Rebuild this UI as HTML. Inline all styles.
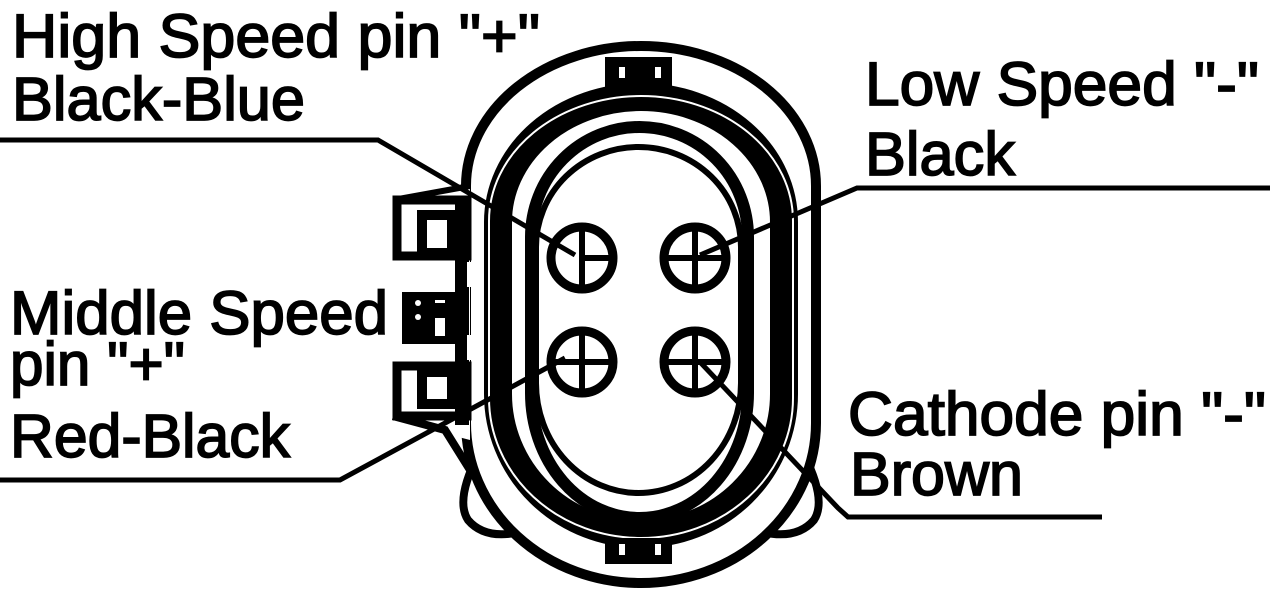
<!DOCTYPE html>
<html><head><meta charset="utf-8"><style>
html,body{margin:0;padding:0;background:#fff;}
svg{display:block;}
text{font-family:"Liberation Sans",Arial,sans-serif;font-size:61px;fill:#000;stroke:#000;stroke-width:1.7px;}
</style></head><body>
<svg width="1280" height="598" viewBox="0 0 1280 598" xmlns="http://www.w3.org/2000/svg">
<rect width="1280" height="598" fill="#fff" stroke="none"/>
<!-- ears -->
<path d="M478,455 Q455,500 468,520 Q485,540 520,532 L545,505 Z" fill="#fff" stroke="#000" stroke-width="8"/>
<path d="M804,455 Q827,500 814,520 Q797,540 762,532 L737,505 Z" fill="#fff" stroke="#000" stroke-width="8"/>
<!-- outer shell -->
<path d="M466,186 A175,140 0 0 1 816,186 V423 A175,160 0 0 1 466,423 Z" fill="#fff" stroke="#000" stroke-width="10"/>
<!-- left latch block -->
<path d="M393,200 L470,186 L470,440 L393,420 Z" fill="#fff" stroke="none"/>
<path d="M393,200 L470,186" stroke="#000" stroke-width="6"/>
<path d="M393,416 L445,430 L470,470" fill="none" stroke="#000" stroke-width="8"/>
<rect x="397" y="200" width="70" height="56" fill="#fff" stroke="#000" stroke-width="9"/>
<rect x="422" y="215" width="30" height="38" fill="#fff" stroke="#000" stroke-width="10"/>
<rect x="402" y="292" width="65" height="52" fill="#000"/>
<rect x="435" y="318" width="10" height="18" fill="#fff"/>
<circle cx="418" cy="303" r="3" fill="#fff"/><circle cx="418" cy="317" r="3" fill="#fff"/>
<circle cx="463" cy="303" r="3" fill="#fff"/><circle cx="463" cy="317" r="3" fill="#fff"/>
<rect x="435" y="300" width="10" height="3" fill="#fff"/>
<rect x="397" y="366" width="70" height="50" fill="#fff" stroke="#000" stroke-width="9"/>
<rect x="422" y="372" width="30" height="32" fill="#fff" stroke="#000" stroke-width="10"/>
<rect x="455" y="200" width="14" height="225" fill="#000"/>
<rect x="467" y="262" width="6" height="25" fill="#fff"/>
<rect x="467" y="335" width="6" height="25" fill="#fff"/>
<!-- rings -->
<path d="M498,222 A143,125 0 0 1 784,222 V394 A143,140 0 0 1 498,394 Z" fill="#fff" stroke="#000" stroke-width="28"/>
<path d="M489,221 A152,125 0 0 1 793,221 V398 A152,140 0 0 1 489,398 Z" fill="none" stroke="#fff" stroke-width="2"/>
<path d="M531,237 A108.5,110 0 0 1 748,237 V393 A108.5,125 0 0 1 531,393 Z" fill="#fff" stroke="#000" stroke-width="12"/>
<path d="M536,247 A102.5,100 0 0 1 741,247 V383 A102.5,110 0 0 1 536,383 Z" fill="#fff" stroke="#000" stroke-width="6"/>
<!-- top / bottom tabs -->
<rect x="605" y="57" width="67" height="30" fill="#000"/>
<rect x="619" y="67" width="6" height="11" fill="#fff"/><rect x="655" y="67" width="6" height="11" fill="#fff"/>
<rect x="605" y="538" width="67" height="26" fill="#000"/>
<rect x="619" y="544" width="6" height="11" fill="#fff"/><rect x="655" y="544" width="6" height="11" fill="#fff"/>
<!-- pins -->
<g fill="#fff" stroke="#000" stroke-width="9">
<circle cx="582" cy="258" r="31"/><circle cx="695" cy="258" r="31"/>
<circle cx="582" cy="362" r="31"/><circle cx="695" cy="362" r="31"/>
</g>
<g stroke="#000" stroke-width="6">
<path d="M582,227 V289 M582,258 H611"/>
<path d="M695,227 V289 M666,258 H724"/>
<path d="M582,331 V393 M553,362 H611"/>
<path d="M695,331 V393 M666,362 H724"/>
</g>
<!-- leader lines -->
<g fill="none" stroke="#000" stroke-width="5" stroke-linejoin="miter">
<polyline points="0,140 378,140 575,255"/>
<polyline points="1270,188 857,188 700,255"/>
<polyline points="0,480 340,480 565,358"/>
<polyline points="700,362 838,508 848,517 1102,517"/>
</g>
<!-- labels -->
<text x="12" y="57" textLength="528" lengthAdjust="spacingAndGlyphs">High Speed pin "+"</text>
<text x="12" y="120" textLength="293" lengthAdjust="spacingAndGlyphs">Black-Blue</text>
<text x="865" y="105" textLength="394" lengthAdjust="spacingAndGlyphs">Low Speed "-"</text>
<text x="865" y="175" textLength="150" lengthAdjust="spacingAndGlyphs">Black</text>
<text x="10" y="334" textLength="378" lengthAdjust="spacingAndGlyphs">Middle Speed</text>
<text x="10" y="385" textLength="175" lengthAdjust="spacingAndGlyphs">pin "+"</text>
<text x="10" y="457" textLength="280" lengthAdjust="spacingAndGlyphs">Red-Black</text>
<text x="848" y="435" textLength="418" lengthAdjust="spacingAndGlyphs">Cathode pin "-"</text>
<text x="850" y="495" textLength="173" lengthAdjust="spacingAndGlyphs">Brown</text>
</svg>
</body></html>
